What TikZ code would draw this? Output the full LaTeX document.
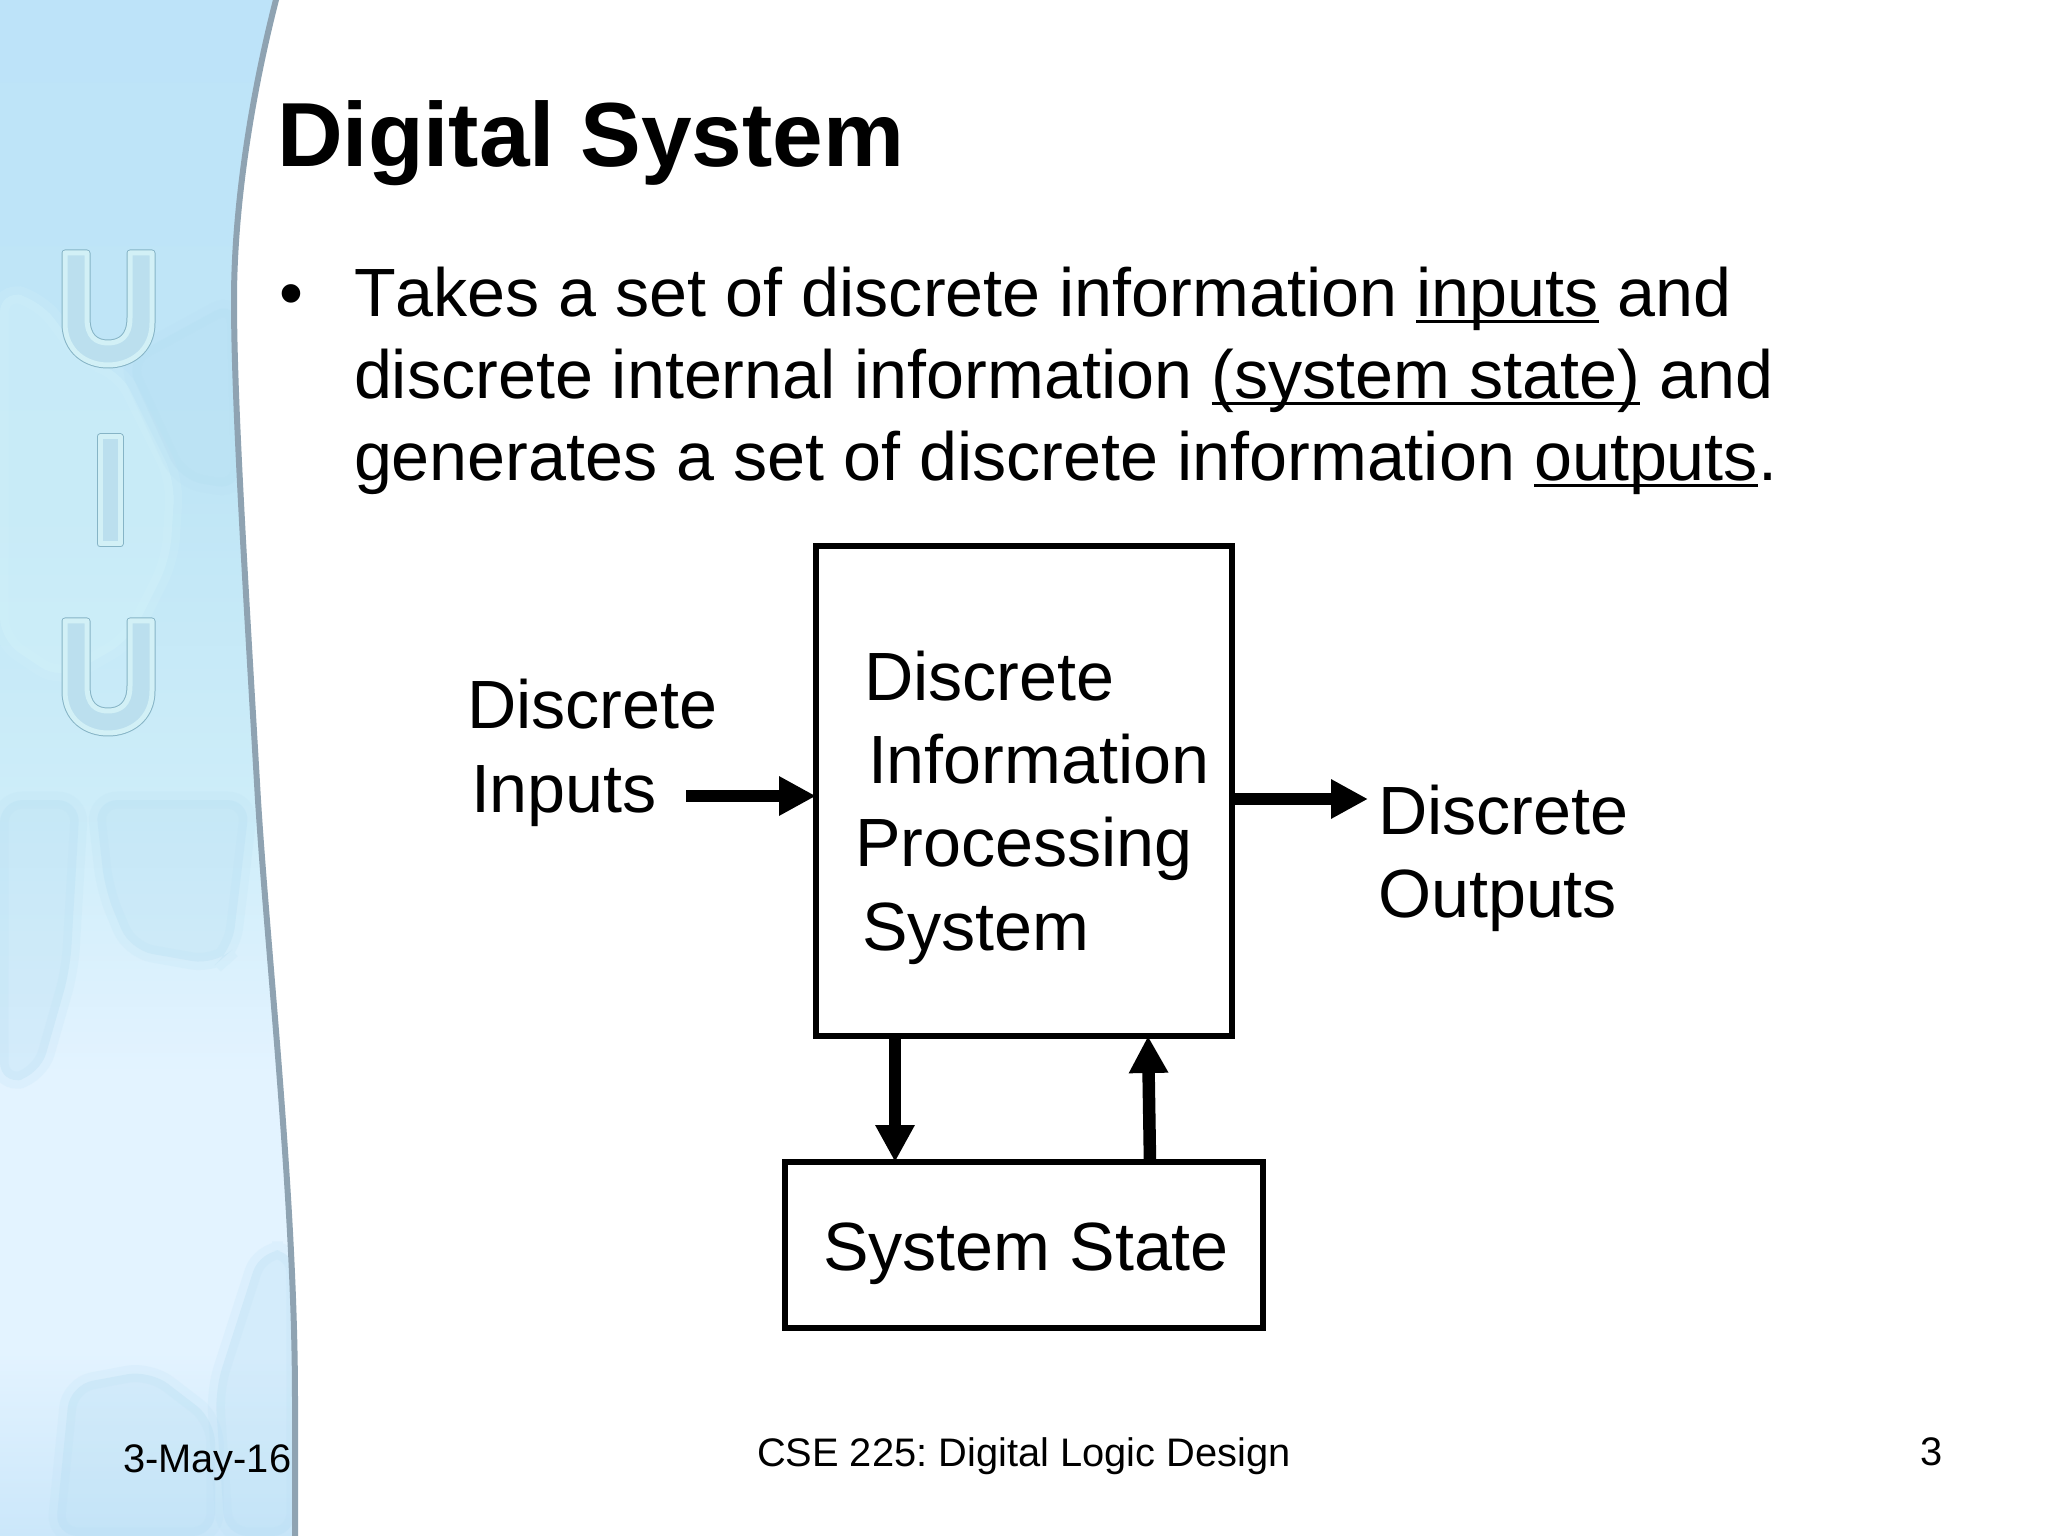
\documentclass[tikz,border=0pt]{standalone}
\usepackage{fontspec}
\setmainfont{Liberation Sans}
\usetikzlibrary{arrows.meta}
\usepackage{xcolor}
\definecolor{panelTop}{HTML}{BDE3F9}
\definecolor{panelUp}{HTML}{C0E6F6}
\definecolor{panelMid}{HTML}{CDEDF9}
\definecolor{panelLow}{HTML}{E3F3FF}
\definecolor{panelFoot}{HTML}{CBE7FA}
\definecolor{panelEdge}{HTML}{8FA3B2}
\definecolor{shardPale}{HTML}{D4F3FA}
\definecolor{shardDeep}{HTML}{B4DDF2}
\definecolor{letterLine}{HTML}{86B4C6}
\definecolor{letterBand}{HTML}{D2F0F6}
\definecolor{letterFill}{HTML}{BBDFEE}
\pgfdeclareverticalshading{panelshade}{100bp}{color(0bp)=(panelFoot); color(25bp)=(panelFoot); color(31bp)=(panelLow); color(40bp)=(panelLow); color(49bp)=(panelMid); color(59bp)=(panelUp); color(75bp)=(panelTop); color(100bp)=(panelTop)}
\newcommand{\edgecurve}{(277,-4) .. controls (250,100) and (234,210) .. (234,300) .. controls (234,400) and (244,560) .. (258,800) .. controls (268,960) and (295,1200) .. (295,1400) -- (295,1540)}
\newcommand{\letterU}{(65,0) -- (65,70) .. controls (65,98) and (86,112) .. (108,112) .. controls (130,112) and (152,98) .. (152,70) -- (152,0) -- (130,0) -- (130,65) .. controls (130,84) and (120,90) .. (108,90) .. controls (96,90) and (87,84) .. (87,65) -- (87,0) -- cycle}
\newsavebox{\ulbox}
\newcommand{\ulword}[1]{\sbox{\ulbox}{#1}\leavevmode\rlap{\rule[-2.2pt]{\wd\ulbox}{1.1pt}}\usebox{\ulbox}}
\tikzset{
  every node/.style={inner sep=0pt,outer sep=0pt,anchor=base west},
  titletext/.style={font=\fontsize{32}{38}\selectfont\bfseries},
  bodytext/.style={font=\fontsize{24}{29}\selectfont,align=left},
  foottext/.style={font=\fontsize{14}{17}\selectfont\frenchspacing},
  blockbox/.style={draw,line width=6*0.3516pt,fill=none,anchor=center},
  flow/.style={line width=12.5*0.3516pt,-{Triangle[length=13pt,width=13pt]}},
  letterline/.style={draw=letterLine,line width=7*0.3516pt,line join=round},
  letterband/.style={draw=letterBand,fill=letterFill,line width=5*0.3516pt,line join=round},
  shardP/.style={fill=shardPale,fill opacity=.4,draw=shardPale,draw opacity=.2,line width=6pt,rounded corners=8pt},
  shardD/.style={fill=shardDeep,fill opacity=.3,draw=shardDeep,draw opacity=.15,line width=6pt,rounded corners=8pt}
}
\begin{document}
\begin{tikzpicture}[x=0.3515625pt,y=-0.3515625pt]
\useasboundingbox[fill=white] (0,0) rectangle (2048,1536);
% left panel
\begin{scope}
\clip \edgecurve -- (0,1540) -- (0,-4) -- cycle;
\path[shading=panelshade] (0,0) rectangle (300,1536);
\path[shardP] (0,290) -- (40,300) -- (85,360) -- (120,370) -- (175,480) -- (170,560) -- (130,640) -- (60,680) -- (0,640) -- cycle;
\path[shardD] (125,360) -- (235,300) -- (240,490) -- (180,480) -- cycle;
\path[shardD] (0,800) -- (80,800) -- (70,970) -- (40,1075) -- (0,1085) -- cycle;
\path[shardD] (95,800) -- (250,800) -- (232,950) -- (215,965) -- (130,950) -- (105,890) -- cycle;
\path[shardD] (70,1385) -- (150,1370) -- (215,1420) -- (215,1536) -- (55,1536) -- cycle;
\path[shardD] (215,1390) -- (260,1250) -- (295,1250) -- (295,1536) -- (225,1536) -- cycle;
\end{scope}
\draw[panelEdge,line width=6*0.3516pt] \edgecurve;
% letters
\foreach \ly in {253,621}{
  \begin{scope}[yshift=-\ly*0.3515625pt]
  \path[letterline] \letterU;
  \path[letterband] \letterU;
  \end{scope}
}
\path[letterline] (100,437) rectangle (120,544);
\path[letterband] (100,437) rectangle (120,544);
% heading and text
\node[titletext] (title) at (277,167) {Digital System};
\node[bodytext] (bullet) at (279,317) {•};
\node[bodytext] (line1) at (354,317) {T\kern0pt akes a set of discrete information \ulword{inputs} and};
\node[bodytext] (line2) at (354,399) {discrete internal information \ulword{(system state)} and};
\node[bodytext] (line3) at (354,481) {generates a set of discrete information \ulword{outputs}.};
% blocks
\node[blockbox,minimum width=416*0.3516pt,minimum height=490*0.3516pt] (proc) at (1024,791) {};
\node[blockbox,minimum width=478*0.3516pt,minimum height=166*0.3516pt] (state) at (1024,1245) {};
\node[bodytext] (procA) at (864,700) {Discrete};
\node[bodytext] (procB) at (868,783) {Information};
\node[bodytext] (procC) at (855,866) {Processing};
\node[bodytext] (procD) at (862,950) {System};
\node[bodytext] (stateA) at (823,1270) {System State};
\node[bodytext] (inA) at (467,728) {Discrete};
\node[bodytext] (inB) at (471,812) {Inputs};
\node[bodytext] (outA) at (1378,834) {Discrete};
\node[bodytext] (outB) at (1378,917) {Outputs};
% arrows
\coordinate (inTail) at (686,796);
\coordinate (outHead) at (1368,799);
\coordinate (downX) at (895,1100);
\coordinate (upTail) at (1150,1100);
\coordinate (upHead) at (1148,1100);
\draw[flow] (inTail) -- (inTail -| proc.west);
\draw[flow] (outHead -| proc.east) -- (outHead);
\draw[flow] (downX |- proc.south) -- (downX |- state.north);
\draw[flow] (upTail |- state.north) -- (upHead |- proc.south);
% footer
\node[foottext] (date) at (123,1472) {3-May-16};
\node[foottext] (course) at (757,1466) {CSE 225: Digital Logic Design};
\node[foottext] (page) at (1920,1465) {3};
\end{tikzpicture}
\end{document}
